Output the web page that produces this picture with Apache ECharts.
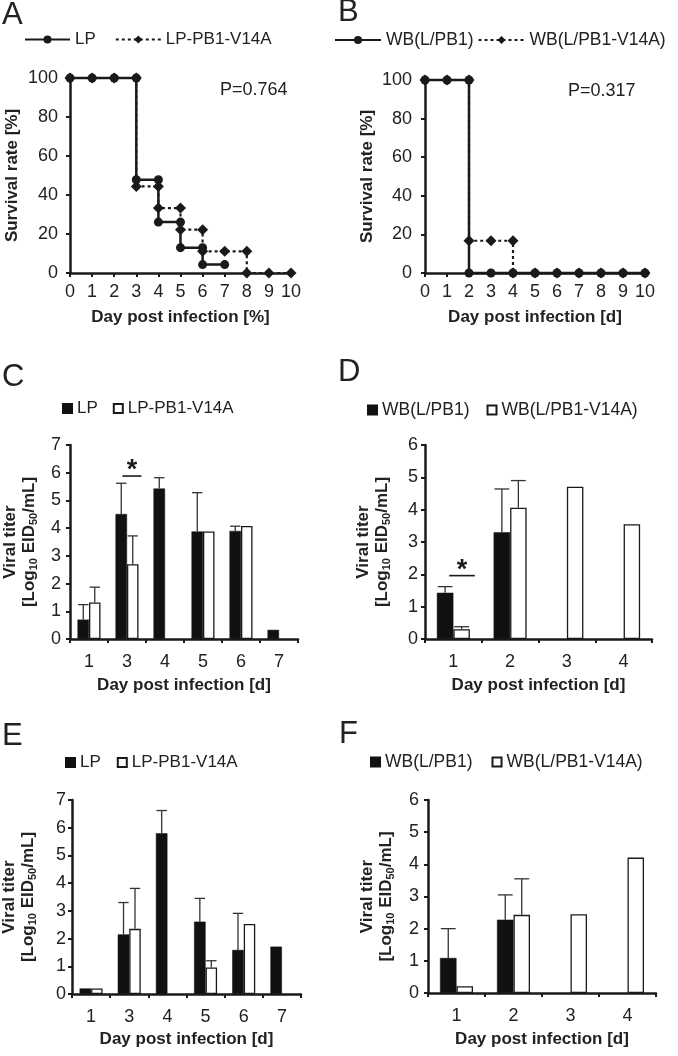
<!DOCTYPE html>
<html><head><meta charset="utf-8">
<script src="https://cdn.jsdelivr.net/npm/echarts@6/dist/echarts.min.js"></script>
<style>html,body{margin:0;padding:0;background:#fff}#c{width:678px;height:1056px}</style>
</head><body><div id="c"></div><script>
// ---- Panel A: survival (LP vs LP-PB1-V14A) ----
const daysA_LP = [0,1,2,3,3,4,4,5,5,6,6,7];
const survA_LP = [100,100,100,100,47.8,47.8,26.1,26.1,13.0,13.0,4.3,4.3];
const daysA_V  = [0,1,2,3,3,4,4,5,5,6,6,7,8,8,9,10];
const survA_V  = [100,100,100,100,44.4,44.4,33.3,33.3,22.2,22.2,11.1,11.1,11.1,0,0,0];
// ---- Panel B: survival (WB(L/PB1) vs WB(L/PB1-V14A)) ----
const daysB_WB = [0,1,2,2,3,4,5,6,7,8,9,10];
const survB_WB = [100,100,100,0,0,0,0,0,0,0,0,0];
const daysB_V  = [0,1,2,2,3,4,4,5,6,7,8,9,10];
const survB_V  = [100,100,100,16.7,16.7,16.7,0,0,0,0,0,0,0];
// ---- Panel C ----
const catsCE = ['1','3','4','5','6','7'];
const C_LP     = [0.70,4.51,5.43,3.88,3.90,0.33];
const C_LP_err = [1.24,5.62,5.82,5.28,4.07,null];
const C_V      = [1.32,2.70,'-',3.88,4.08,'-'];
const C_V_err  = [1.87,3.72,null,null,null,null];
const C_sig    = [[1,5.88]];
// ---- Panel D ----
const catsDF = ['1','2','3','4'];
const D_WB     = [1.43,3.30,'-','-'];
const D_WB_err = [1.62,4.64,null,null];
const D_V      = [0.30,4.06,4.71,3.55];
const D_V_err  = [0.38,4.90,null,null];
const D_sig    = [[0,1.96]];
// ---- Panel E ----
const E_LP     = [0.20,2.15,5.80,2.61,1.59,1.71];
const E_LP_err = [null,3.30,6.62,3.45,2.91,null];
const E_V      = [0.20,2.35,'-',0.96,2.53,'-'];
const E_V_err  = [null,3.81,null,1.20,null,null];
// ---- Panel F ----
const F_WB     = [1.09,2.28,'-','-'];
const F_WB_err = [2.00,3.05,null,null];
const F_V      = [0.21,2.43,2.45,4.21];
const F_V_err  = [null,3.55,null,null];

const FONT = "'Liberation Sans', Arial, sans-serif";
const INK = '#1a1a1a';
const pairs = (xs, ys) => xs.map((x,i)=>[x, ys[i]]);

const chart = echarts.init(document.getElementById('c'), null, {renderer:'canvas'});

const grids = [
  {left:70, top:78, width:221, height:195},
  {left:425, top:80, width:220, height:193},
  {left:70, top:445, width:228, height:194},
  {left:425, top:445, width:227, height:194},
  {left:72, top:800, width:229, height:194},
  {left:428, top:800, width:228, height:193}
];

const axLine = {lineStyle:{color:INK, width:2.5}};
const axTick = {show:true, inside:false, length:4, lineStyle:{color:INK, width:2}};
const labStyle = (m)=>({color:'#222', fontSize:18, fontFamily:FONT, margin:m});
const nameBold = {fontSize:17, fontWeight:'bold', color:'#222', fontFamily:FONT};
const titerName = '{t|Viral titer}\n{t|[Log}{s|10}{t| EID}{s|50}{t|/mL]}';
const titerStyle = {fontFamily:FONT, color:'#222', rich:{
  t:{fontSize:17, fontWeight:'bold', lineHeight:19, fontFamily:FONT, color:'#222'},
  s:{fontSize:11, fontWeight:'bold', lineHeight:10, verticalAlign:'bottom', fontFamily:FONT, color:'#222'}
}};

function survX(i, gap){ return {type:'value', gridIndex:i, min:0, max:10, interval:1,
  axisLine:axLine, axisTick:axTick, splitLine:{show:false}, axisLabel:labStyle(10),
  name: i===0 ? 'Day post infection [%]' : 'Day post infection [d]', nameLocation:'middle', nameGap:gap, nameTextStyle:nameBold}; }
function survY(i, m, gap){ return {type:'value', gridIndex:i, min:0, max:100, interval:20,
  axisLine:axLine, axisTick:axTick, splitLine:{show:false}, axisLabel:labStyle(m),
  name:'Survival rate [%]', nameLocation:'middle', nameGap:gap, nameTextStyle:nameBold}; }
function catX(i, cats, gap){ return {type:'category', gridIndex:i, data:cats, boundaryGap:true,
  axisLine:axLine, axisTick:Object.assign({alignWithLabel:false, interval:0}, axTick),
  axisLabel:Object.assign({interval:0}, labStyle(14)),
  name:'Day post infection [d]', nameLocation:'middle', nameGap:gap, nameTextStyle:nameBold}; }
function titerY(i, max, m, gap){ return {type:'value', gridIndex:i, min:0, max:max, interval:1,
  axisLine:Object.assign({show:true}, axLine), axisTick:axTick, splitLine:{show:false}, axisLabel:labStyle(m),
  name:titerName, nameLocation:'middle', nameGap:gap, nameTextStyle:titerStyle}; }

function survLine(i, name, data, solid){
  return {type:'line', name:name, xAxisIndex:i, yAxisIndex:i, data:data, clip:false,
    symbol: solid ? 'circle' : 'diamond', symbolSize: solid ? 9 : 11, showSymbol:true,
    z: solid ? 3 : 2,
    itemStyle:{color:INK}, lineStyle:{color:INK, width: solid ? 2.5 : 2.2, type: solid ? 'solid' : [3,3]},
    emphasis:{disabled:true}, animation:false};
}
function bar(i, name, data, bw, open){
  return {type:'bar', name:name, xAxisIndex:i, yAxisIndex:i, data:data, barWidth:bw, barGap:'0%',
    itemStyle: open ? {color:'#fff', borderColor:INK, borderWidth:1.3} : {color:'#111', borderColor:'#111', borderWidth:0.5},
    emphasis:{disabled:true}, animation:false, z:2};
}
function errBars(i, vals, errs, side, bw){
  const data = [];
  vals.forEach((v,k)=>{ if (errs[k]!=null && v!=='-') data.push([k, v, errs[k]]); });
  return {type:'custom', xAxisIndex:i, yAxisIndex:i, data:data, z:5, silent:true, animation:false,
    encode:{x:0, y:[1,2]},
    renderItem(params, api){
      const p1 = api.coord([api.value(0), api.value(1)]);
      const p2 = api.coord([api.value(0), api.value(2)]);
      const x = p1[0] + side*bw/2;
      const cw = bw*0.9;
      const st = {stroke:'#333', lineWidth:1.3};
      return {type:'group', children:[
        {type:'line', shape:{x1:x, y1:p1[1], x2:x, y2:p2[1]}, style:st},
        {type:'line', shape:{x1:x-cw/2, y1:p2[1], x2:x+cw/2, y2:p2[1]}, style:st}
      ]};
    }};
}
function sigMark(i, data, bw, a, b){
  return {type:'custom', xAxisIndex:i, yAxisIndex:i, data:data, z:6, silent:true, animation:false,
    encode:{x:0, y:1},
    renderItem(params, api){
      const p = api.coord([api.value(0), api.value(1)]);
      const x1 = p[0] + a*bw, x2 = p[0] + b*bw;
      return {type:'group', children:[
        {type:'line', shape:{x1:x1, y1:p[1], x2:x2, y2:p[1]}, style:{stroke:INK, lineWidth:1.6}},
        {type:'text', x:(x1+x2)/2, y:p[1]-5, style:{text:'*', fontSize:27, fontWeight:'bold', fontFamily:FONT,
          fill:INK, align:'center', verticalAlign:'middle'}}
      ]};
    }};
}

const strip = n => n.replace(/ \([A-F]\)$/, '');
function lineLegend(left, top, names, w, gap, fs){
  return {left:left, top:top, orient:'horizontal', data:names, itemWidth:w, itemHeight:10, itemGap:gap,
    padding:0, selectedMode:false, formatter:strip,
    textStyle:{fontSize:fs, color:'#222', fontFamily:FONT}};
}
function barLegend(left, top, names, gap, fs){
  return {left:left, top:top, orient:'horizontal', icon:'rect', data:names, itemWidth:9, itemHeight:9, itemGap:gap,
    padding:0, selectedMode:false, formatter:strip,
    textStyle:{fontSize:fs, color:'#222', fontFamily:FONT}};
}

const bwS = 11.5, bwW = 16.5;

const option = {
  backgroundColor:'#fff',
  animation:false,
  textStyle:{fontFamily:FONT},
  grid: grids,
  xAxis: [survX(0,36), survX(1,36), catX(2,catsCE,38), catX(3,catsDF,38), catX(4,catsCE,37), catX(5,catsDF,38)],
  yAxis: [survY(0,12,49), survY(1,13,49), titerY(2,7,9,31), titerY(3,6,7,33), titerY(4,7,6,34), titerY(5,6,9,32)],
  legend: [
    lineLegend(24, 31, ['LP (A)','LP-PB1-V14A (A)'], 45, 19, 17),
    lineLegend(334, 31, ['WB(L/PB1) (B)','WB(L/PB1-V14A) (B)'], 46, 4, 17.5),
    barLegend(62, 400, ['LP (C)','LP-PB1-V14A (C)'], 15, 17),
    barLegend(367, 401, ['WB(L/PB1) (D)','WB(L/PB1-V14A) (D)'], 17, 17.5),
    barLegend(65, 754, ['LP (E)','LP-PB1-V14A (E)'], 16, 17),
    barLegend(370, 753, ['WB(L/PB1) (F)','WB(L/PB1-V14A) (F)'], 19, 17.5)
  ],
  series: [
    survLine(0, 'LP-PB1-V14A (A)', pairs(daysA_V, survA_V), false),
    survLine(0, 'LP (A)', pairs(daysA_LP, survA_LP), true),
    survLine(1, 'WB(L/PB1-V14A) (B)', pairs(daysB_V, survB_V), false),
    survLine(1, 'WB(L/PB1) (B)', pairs(daysB_WB, survB_WB), true),

    bar(2, 'LP (C)', C_LP, bwS, false),
    bar(2, 'LP-PB1-V14A (C)', C_V, bwS, true),
    errBars(2, C_LP, C_LP_err, -1, bwS),
    errBars(2, C_V, C_V_err, 1, bwS),
    sigMark(2, C_sig, bwS, -0.4, 1.25),

    bar(3, 'WB(L/PB1) (D)', D_WB, bwW, false),
    bar(3, 'WB(L/PB1-V14A) (D)', D_V, bwW, true),
    errBars(3, D_WB, D_WB_err, -1, bwW),
    errBars(3, D_V, D_V_err, 1, bwW),
    sigMark(3, D_sig, bwW, -0.25, 1.3),

    bar(4, 'LP (E)', E_LP, bwS, false),
    bar(4, 'LP-PB1-V14A (E)', E_V, bwS, true),
    errBars(4, E_LP, E_LP_err, -1, bwS),
    errBars(4, E_V, E_V_err, 1, bwS),

    bar(5, 'WB(L/PB1) (F)', F_WB, bwW, false),
    bar(5, 'WB(L/PB1-V14A) (F)', F_V, bwW, true),
    errBars(5, F_WB, F_WB_err, -1, bwW),
    errBars(5, F_V, F_V_err, 1, bwW)
  ],
  graphic: [
    {type:'text', left:2, top:0, style:{text:'A', fontSize:31, fill:'#222', fontFamily:FONT}},
    {type:'text', left:338, top:-3, style:{text:'B', fontSize:31, fill:'#222', fontFamily:FONT}},
    {type:'text', left:2, top:362, style:{text:'C', fontSize:31, fill:'#222', fontFamily:FONT}},
    {type:'text', left:338, top:357, style:{text:'D', fontSize:31, fill:'#222', fontFamily:FONT}},
    {type:'text', left:2, top:721, style:{text:'E', fontSize:31, fill:'#222', fontFamily:FONT}},
    {type:'text', left:339, top:719, style:{text:'F', fontSize:31, fill:'#222', fontFamily:FONT}},
    {type:'text', left:220, top:81, style:{text:'P=0.764', fontSize:18, fill:'#222', fontFamily:FONT}},
    {type:'text', left:568, top:82, style:{text:'P=0.317', fontSize:18, fill:'#222', fontFamily:FONT}}
  ]
};
chart.setOption(option);
</script></body></html>
